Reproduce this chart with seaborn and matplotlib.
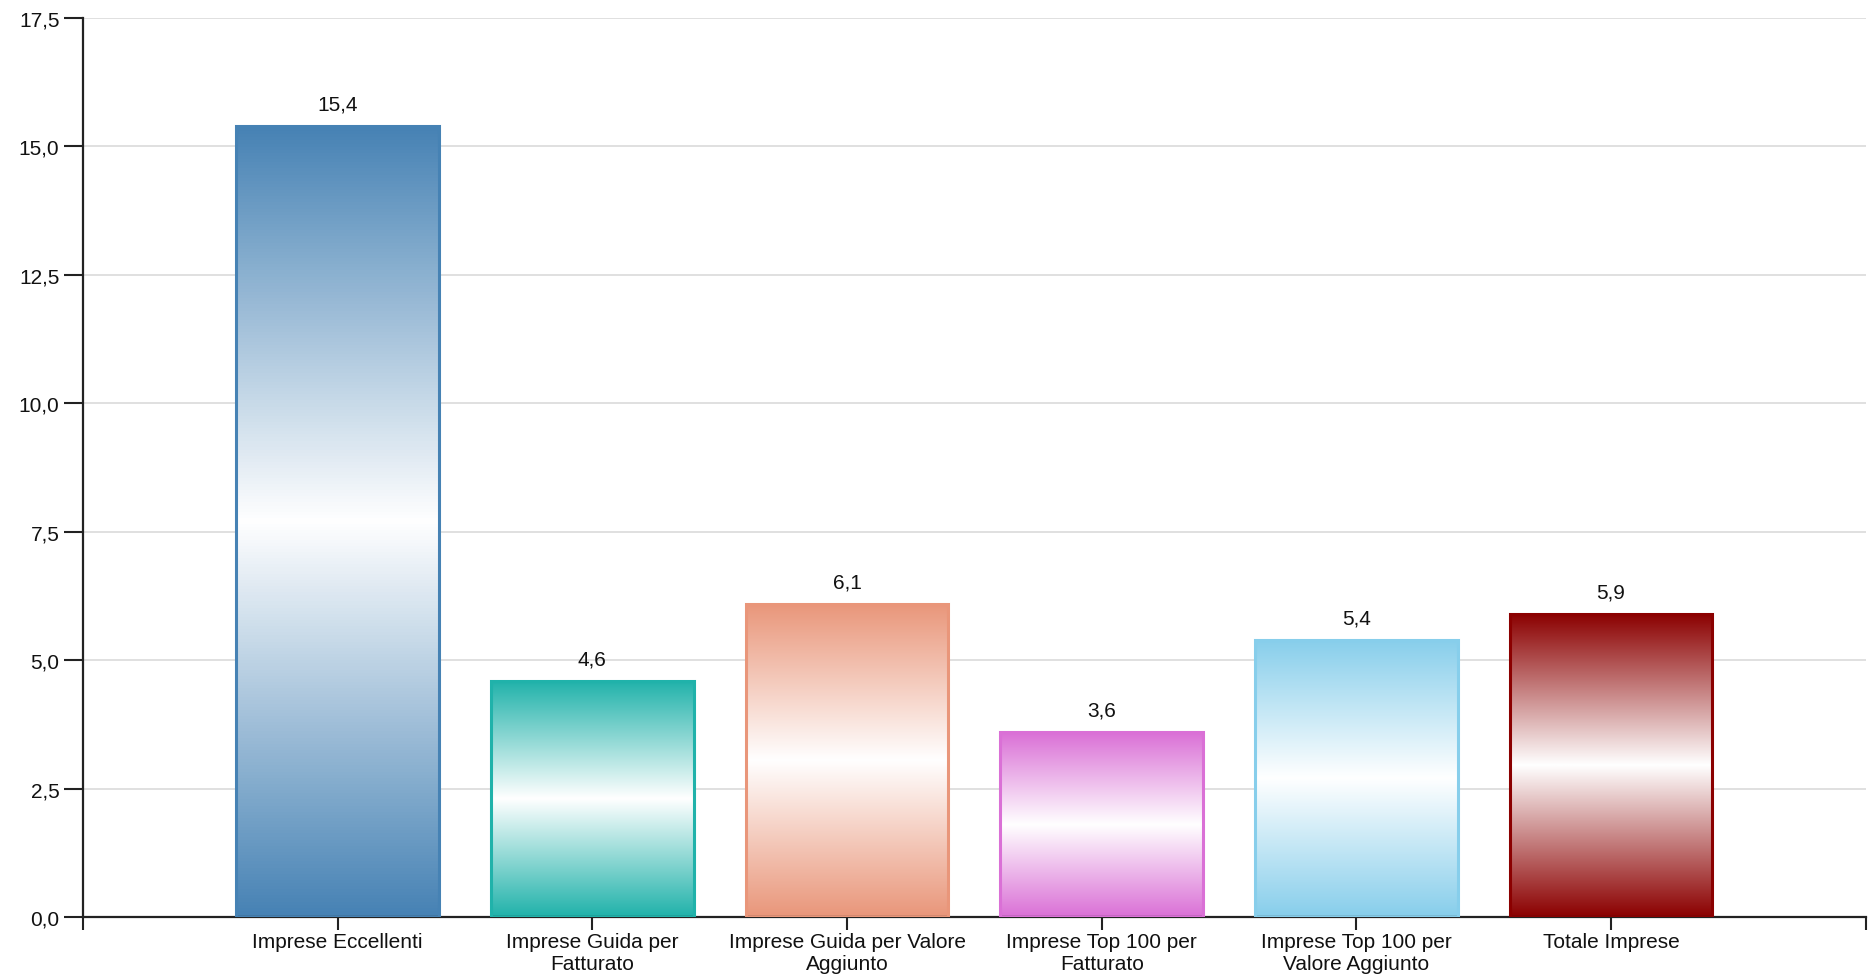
import numpy as np
import pandas as pd
import seaborn as sns
import matplotlib.pyplot as plt
from matplotlib.colors import to_rgb

categories = ['Imprese Eccellenti', 'Imprese Guida per\nFatturato', 'Imprese Guida per Valore\nAggiunto',
              'Imprese Top 100 per\nFatturato', 'Imprese Top 100 per\nValore Aggiunto', 'Totale Imprese']
values = [15.4, 4.6, 6.1, 3.6, 5.4, 5.9]
colors = ['#4682B4', '#20B2AA', '#E9967A', '#DA70D6', '#87CEEB', '#8B0000']
y_ticks = [0, 2.5, 5, 7.5, 10, 12.5, 15, 17.5]

sns.set_style('white')
plt.rcParams['font.family'] = ['Liberation Sans', 'DejaVu Sans']

df = pd.DataFrame({'categoria': categories, 'valore': values})
palette = dict(zip(categories, colors))

fig = plt.figure(figsize=(18.74, 9.78), dpi=100)
ax = fig.add_axes([0.0443, 0.0613, 0.9513, 0.9193])

sns.barplot(data=df, x='categoria', y='valore', hue='categoria', palette=palette,
            legend=False, width=0.795, ax=ax, zorder=2)

ax.set_xlim(-1, 6)
ax.set_ylim(0, 17.5)

# gradient fill: colour at top and bottom, white in the middle
t = np.abs(np.linspace(-1, 1, 256))[:, None]
for patch, col in zip(ax.patches, colors):
    rgb = np.array(to_rgb(col))
    grad = (1 - t)[..., None] * np.ones(3) + t[..., None] * rgb
    grad = np.repeat(grad, 2, axis=1)
    x0, y0 = patch.get_x(), patch.get_y()
    w, h = patch.get_width(), patch.get_height()
    patch.set_facecolor('none')
    patch.set_edgecolor(col)
    patch.set_linewidth(2.2)
    im = ax.imshow(grad, extent=(x0, x0 + w, y0, y0 + h), aspect='auto', origin='lower', zorder=2)
    im.set_clip_path(patch)
    ax.annotate(f'{h:.1f}'.replace('.', ','), (x0 + w / 2, y0 + h), xytext=(0, 9),
                textcoords='offset points', ha='center', va='bottom', fontsize=15, color='#111')
    patch.set_zorder(3)

ax.set_xlim(-1, 6)
ax.set_ylim(0, 17.5)

ax.set_xticks(range(-1, 7))
ax.set_xticklabels([''] + categories + [''], fontsize=15, linespacing=1.15, color='#111')
ax.set_yticks(y_ticks)
ax.set_yticklabels([f'{v:.1f}'.replace('.', ',') for v in y_ticks], fontsize=15, color='#111')
ax.tick_params(axis='y', length=14, width=1.5, color='#222', pad=3, left=True)
ax.tick_params(axis='x', length=9, width=1.5, color='#222', pad=2, bottom=True)

ax.set_xlabel('')
ax.set_ylabel('')
ax.yaxis.grid(True, color='#dddddd', linewidth=1.3, zorder=0)
ax.set_axisbelow(True)
for side in ['top', 'right']:
    ax.spines[side].set_visible(False)
for side in ['left', 'bottom']:
    ax.spines[side].set_color('#222')
    ax.spines[side].set_linewidth(1.6)

plt.savefig('out.png', dpi=100)
plt.close()
